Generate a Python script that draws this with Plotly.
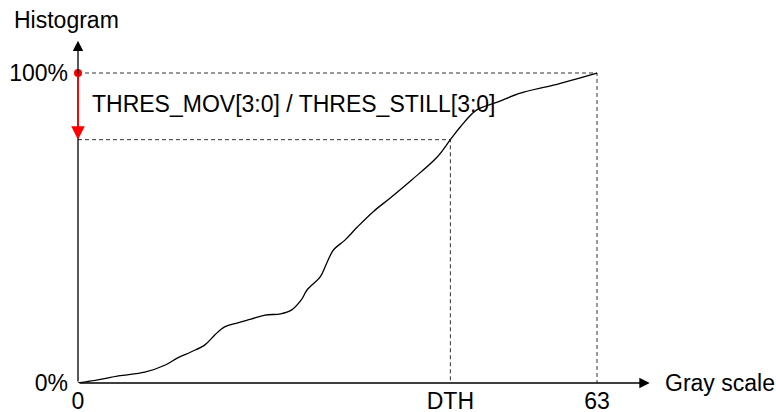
import plotly.graph_objects as go

# Cumulative histogram curve: gray level (0..63) vs cumulative percentage
gray_level = [0, 2.4, 4.9, 8.1, 10.6, 12.1, 13.7, 15.4, 16.6, 17.8, 19.4, 21.0,
              22.7, 24.6, 25.9, 27.1, 27.8, 29.4, 30.2, 31.0, 32.4, 33.9, 35.8,
              37.9, 40.5, 43.6, 45.2, 46.4, 48.4, 50.9, 53.7, 57.7, 63]
cum_percent = [0, 1.0, 2.3, 3.5, 5.8, 8.1, 10.0, 12.3, 15.5, 18.1, 19.4, 20.6,
               21.9, 22.3, 23.5, 26.8, 30.0, 34.2, 38.7, 42.9, 46.1, 50.3, 55.2,
               59.7, 65.5, 72.9, 78.5, 82.6, 88.1, 90.6, 93.5, 96.1, 100]

DTH = 45.2          # gray level where the threshold is reached
THRESHOLD = 78.5    # cumulative percentage threshold
MAX_LEVEL = 63

x_tick_vals = [0, DTH, MAX_LEVEL]
x_tick_text = ["0", "DTH", "63"]
y_tick_vals = [0, 100]
y_tick_text = ["0%", "100%"]

FONT = "Liberation Sans, Arial, sans-serif"
FONT_SIZE = 23
X_MAX = 69.43
Y_MAX = 110.65

fig = go.Figure()

dash_style = dict(color="#333333", width=1, dash="4px,3px")

# Dashed guides for the 100% level and the threshold level
fig.add_trace(go.Scatter(x=[0, MAX_LEVEL, MAX_LEVEL], y=[100, 100, 0],
                         mode="lines", line=dash_style, hoverinfo="skip"))
fig.add_trace(go.Scatter(x=[0, DTH, DTH], y=[THRESHOLD, THRESHOLD, 0],
                         mode="lines", line=dash_style, hoverinfo="skip"))

# Cumulative curve
fig.add_trace(go.Scatter(x=gray_level, y=cum_percent, mode="lines",
                         line=dict(color="black", width=1.3, shape="spline",
                                   smoothing=1.0),
                         hoverinfo="skip"))

text_font = dict(family=FONT, size=FONT_SIZE, color="black")

annotations = [
    # axes with arrowheads
    dict(x=X_MAX * 0.9995, y=0, ax=0, ay=0, xref="x", yref="y", axref="x", ayref="y",
         showarrow=True, arrowhead=2, arrowsize=1.6, arrowwidth=1.3,
         arrowcolor="black", text=""),
    dict(x=0, y=Y_MAX * 0.998, ax=0, ay=0, xref="x", yref="y", axref="x", ayref="y",
         showarrow=True, arrowhead=2, arrowsize=1.6, arrowwidth=1.3,
         arrowcolor="black", text=""),
    # red threshold arrow
    dict(x=0, y=THRESHOLD, ax=0, ay=100, xref="x", yref="y", axref="x", ayref="y",
         showarrow=True, arrowhead=2, arrowsize=1.5, arrowwidth=1.8,
         arrowcolor="#ff0000", text=""),
    dict(x=1.45, y=90.0, xref="x", yref="y", text="THRES_MOV[3:0] / THRES_STILL[3:0]",
         showarrow=False, xanchor="left", yanchor="middle", font=text_font),
    # axis titles
    dict(x=-0.1154, y=1.057, xref="paper", yref="paper", text="Histogram",
         showarrow=False, xanchor="left", yanchor="middle", font=text_font),
    dict(x=1.0227, y=0.0, xref="paper", yref="paper", text="Gray scale",
         showarrow=False, xanchor="left", yanchor="middle", font=text_font),
]

fig.add_trace(go.Scatter(x=[0], y=[100], mode="markers", cliponaxis=False,
                         marker=dict(color="#ff0000", size=8), hoverinfo="skip"))

fig.update_layout(
    width=776, height=412,
    margin=dict(l=78, r=126, t=40, b=29, pad=0, autoexpand=False),
    paper_bgcolor="white", plot_bgcolor="white",
    showlegend=False,
    annotations=annotations,
    xaxis=dict(range=[0, X_MAX], showgrid=False, zeroline=False, showline=False,
               automargin=False,
               tickvals=x_tick_vals, ticktext=x_tick_text, ticks="",
               ticklabelstandoff=2, tickfont=text_font),
    yaxis=dict(range=[0, Y_MAX], showgrid=False, zeroline=False, showline=False,
               automargin=False,
               tickvals=y_tick_vals, ticktext=y_tick_text, ticks="",
               ticklabelstandoff=9, tickfont=text_font),
)

fig.write_html("out.html")
